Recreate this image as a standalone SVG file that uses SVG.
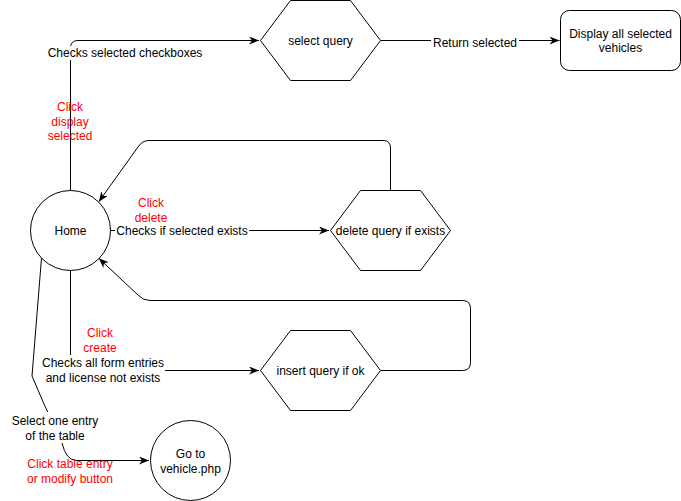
<svg xmlns="http://www.w3.org/2000/svg" width="681" height="501" viewBox="0 0 681 501">
<style>
.shape{fill:#fff;stroke:#000;stroke-width:1}
.edge{fill:none;stroke:#000;stroke-width:1}
text{font-family:"Liberation Sans",Arial,Helvetica,sans-serif;font-size:12px;fill:#000;text-anchor:middle;dominant-baseline:central}
.red{fill:#FF0000}
.bg{fill:#fff;stroke:none}
</style>
<defs>
<marker id="arr" viewBox="0 0 10 8" refX="10" refY="4" markerWidth="10" markerHeight="8" markerUnits="userSpaceOnUse" orient="auto">
<path d="M0,0 L10,4 L0,8 L3,4 Z" fill="#000"/>
</marker>
</defs>
<rect width="681" height="501" fill="#fff"/>
<g id="connectors">
<path class="edge" d="M70.5,190 L70.5,48 Q70.5,40.5 78,40.5 L259,40.5" marker-end="url(#arr)"/>
<path class="edge" d="M380.5,40.5 L559.5,40.5" marker-end="url(#arr)"/>
<path class="edge" d="M110.5,230.5 L329,230.5" marker-end="url(#arr)"/>
<path class="edge" d="M390.5,190 L390.5,148 Q390.5,140.5 383,140.5 L149,140.5 Q142,140.5 138,147 L98.8,201.7" marker-end="url(#arr)"/>
<path class="edge" d="M380.5,370.5 L462.5,370.5 Q470.5,370.5 470.5,362.5 L470.5,308.5 Q470.5,300.5 462.5,300.5 L150,300.5 Q143,300.5 138,295 L98.8,258.3" marker-end="url(#arr)"/>
<path class="edge" d="M70.5,270 L70.5,370.5 L259,370.5" marker-end="url(#arr)"/>
<path class="edge" d="M41.5,258 L32,376 L44,404 L62,443 Q66,460 76,460.5 L149,460.5" marker-end="url(#arr)"/>
</g>
<g id="edge-labels">
<rect class="bg" x="45" y="46" width="160" height="14"/>
<text x="125" y="53">Checks selected checkboxes</text>
<text class="red" x="70" y="107">Click</text>
<text class="red" x="70" y="122">display</text>
<text class="red" x="70" y="136">selected</text>
<rect class="bg" x="431" y="36" width="88" height="14"/>
<text x="475" y="43">Return selected</text>
<rect class="bg" x="115" y="224" width="134" height="14"/>
<text x="182" y="231">Checks if selected exists</text>
<text class="red" x="151" y="203">Click</text>
<text class="red" x="151" y="218">delete</text>
<text class="red" x="100" y="333">Click</text>
<text class="red" x="100" y="348">create</text>
<rect class="bg" x="40" y="355" width="125" height="30"/>
<text x="103" y="363">Checks all form entries</text>
<text x="103" y="378">and license not exists</text>
<rect class="bg" x="10" y="412" width="92" height="31"/>
<text x="55" y="421">Select one entry</text>
<text x="55" y="436">of the table</text>
<text class="red" x="70" y="464">Click table entry</text>
<text class="red" x="70" y="479">or modify button</text>
</g>
<g id="home">
<circle class="shape" cx="70.5" cy="230.5" r="40"/>
<text x="70.5" y="231">Home</text>
</g>
<g id="select-query">
<polygon class="shape" points="260.5,40.5 290.5,0.5 350.5,0.5 380.5,40.5 350.5,80.5 290.5,80.5"/>
<text x="320.5" y="41">select query</text>
</g>
<g id="display-selected">
<rect class="shape" x="560.5" y="10.5" width="120" height="60" rx="9" ry="9"/>
<text x="620.5" y="34">Display all selected</text>
<text x="620.5" y="48">vehicles</text>
</g>
<g id="delete-query">
<polygon class="shape" points="330.5,230.5 360.5,190.5 420.5,190.5 450.5,230.5 420.5,270.5 360.5,270.5"/>
<text x="390.5" y="231">delete query if exists</text>
</g>
<g id="insert-query">
<polygon class="shape" points="260.5,370.5 290.5,330.5 350.5,330.5 380.5,370.5 350.5,410.5 290.5,410.5"/>
<text x="320.5" y="371">insert query if ok</text>
</g>
<g id="vehicle-php">
<circle class="shape" cx="190.5" cy="460.5" r="40"/>
<text x="190.5" y="454">Go to</text>
<text x="190.5" y="469">vehicle.php</text>
</g>
</svg>
